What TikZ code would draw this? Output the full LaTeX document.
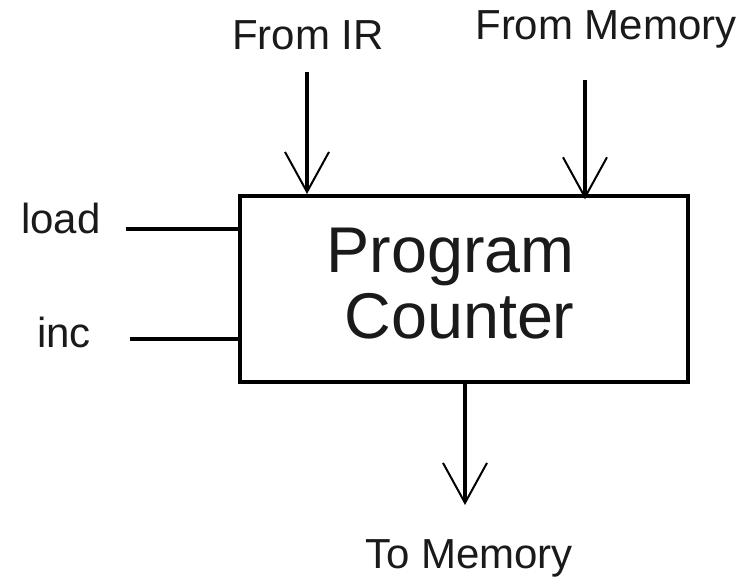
\documentclass[tikz,border=0pt]{standalone}
\usepackage{fontspec}
\setmainfont{Liberation Sans}
\usetikzlibrary{arrows.meta}
\definecolor{wirec}{HTML}{000000}
\definecolor{labelc}{HTML}{1A1A1A}

\begin{document}
\begin{tikzpicture}[x=0.75pt, y=-0.75pt,
    sig/.style={line width=3pt, wirec},
    sigarrow/.style={sig, -{Straight Barb[length=30pt, width=33pt, line width=1.5pt]}},
    lbl/.style={anchor=base, inner sep=0pt, text=labelc, font=\fontsize{31.5}{36}\selectfont}]
  \useasboundingbox (0,0) rectangle (754,578);
  \node[draw=wirec, line width=3pt, minimum width=448*0.75pt, minimum height=186*0.75pt] (pc) at (464,289) {};
  \node[align=center, inner sep=0pt, font=\fontsize{48.5}{50}\selectfont, text=labelc] (pctext) at (459.5,283.5) {Program\hspace*{13pt}\\Counter};
  \node[lbl] (fromir) at (308,50) {From IR};
  \node[lbl] (frommem) at (606,40) {From Memory};
  \node[lbl] (load) at (61,233) {load};
  \node[lbl] (inc) at (64,347) {inc};
  \node[lbl] (tomem) at (469,568) {To Memory};
  % wire ends
  \coordinate (irin) at (307,72);
  \coordinate (memin) at (585,80);
  \coordinate (ldin) at (126,229);
  \coordinate (incin) at (130,339);
  \coordinate (memout) at (465,505);
  \draw[sigarrow] (irin) -- (irin |- pc.north);
  \draw[sigarrow] (memin) -- ([yshift=-4pt]memin |- pc.north);
  \draw[sig] (ldin) -- (ldin -| pc.west);
  \draw[sig] (incin) -- (incin -| pc.west);
  \draw[sigarrow] (memout |- pc.south) -- (memout);
\end{tikzpicture}
\end{document}
